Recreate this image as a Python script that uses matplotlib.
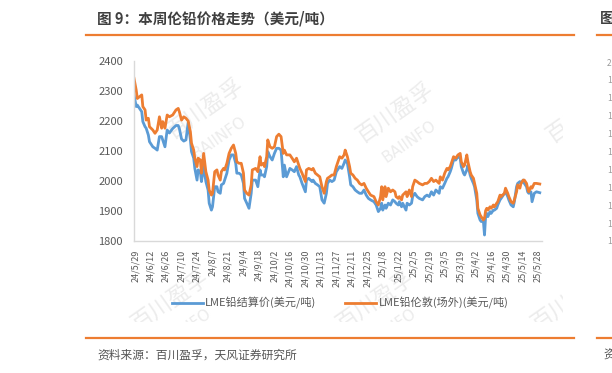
import numpy as np
import pandas as pd
import matplotlib
matplotlib.use("Agg")
from matplotlib import pyplot as plt
from matplotlib.patches import Rectangle

plt.rcParams['font.family'] = ['Noto Sans CJK SC', 'DejaVu Sans']

# days after 2024-05-29
start = pd.Timestamp('2024-05-29')
days = [-1, 1, 2, 4, 6, 7, 9, 10, 12, 13, 16, 18, 20, 22, 24, 25, 27, 29, 31, 34,
        37, 39, 40, 42, 44, 46, 48, 50, 51, 53, 54, 56, 57, 59, 60, 62, 64, 66, 67, 69,
        70, 72, 74, 75, 77, 78, 80, 81, 83, 85, 87, 89, 91, 92, 94, 96, 98, 99, 101, 103,
        105, 106, 109,
        111, 113, 114, 116, 117, 119, 120, 122, 124, 126, 128, 130, 132, 134, 135, 137,
        140, 142, 144, 146, 148, 149, 151, 154, 155, 157, 160, 161, 163, 165, 167, 169,
        171, 173, 174, 176, 178, 180, 182,
        185, 187, 189, 190, 192, 194, 195, 197, 199, 201, 203, 205, 207, 209, 211, 213,
        216, 218, 220,
        222, 223, 224, 226, 227, 229, 231, 233, 235, 236, 238, 239, 241, 242, 245, 246,
        248, 250, 251, 253, 255, 257,
        260, 262, 264, 266, 268, 270, 272, 275, 276, 278, 280, 282, 283, 285, 286, 288,
        290, 292, 294, 295, 297, 298, 300, 301, 303, 304, 306, 307, 309, 310, 312, 313,
        315, 316, 317, 318, 319, 321, 322, 324, 325, 327, 328, 330, 331,
        334, 335, 337, 338, 340, 342, 343, 345, 346, 348, 349, 351, 352, 354, 355, 356,
        358, 359, 361, 363, 366]

# LME铅伦敦(场外)
lme_3m = [2342, 2303, 2275, 2281, 2287, 2248, 2237, 2203, 2209, 2181, 2170, 2159, 2170, 2214, 2176, 2198, 2176, 2220, 2214, 2220,
          2237, 2242, 2231, 2203, 2214, 2209, 2200, 2164, 2126, 2103, 2076, 2048, 2076, 2070, 2026, 2092, 2031, 2003, 1970, 1953,
          1959, 2031, 2037, 2020, 2003, 2031, 2042, 2037, 2059, 2092, 2109, 2120, 2092, 2064, 2059, 2059, 2026, 1970, 1959, 1953,
          1987, 2037, 2042,
          2031, 2081, 2053, 2059, 2048, 2081, 2137, 2114, 2109, 2114, 2148, 2156, 2148, 2092, 2103, 2087,
          2087, 2076, 2064, 2076, 2053, 2042, 2026, 1998, 2037, 2042, 2037, 2042, 2026, 2020, 2014, 1981,
          1959, 1998, 2009, 2014, 2020, 2020, 2048,
          2081, 2076, 2087, 2103, 2081, 2048, 2026, 2020, 2009, 2003, 1992, 1987, 1992, 1976, 1964, 1953,
          1948, 1931, 1920,
          1948, 1981, 1937, 1981, 1948, 1976, 1964, 1970, 1964, 1948, 1942, 1948, 1937, 1953, 1964, 1948,
          1970, 1948, 1981, 2003, 1998, 1992,
          1987, 1992, 1992, 1998, 2009, 1998, 2003, 1992, 2014, 2003, 2026, 2042, 2037, 2048, 2059, 2081,
          2076, 2087, 2092, 2064, 2048, 2053, 2087, 2064, 2031, 2020, 2009, 1992, 1959, 1909, 1887, 1881,
          1870, 1876, 1901, 1909, 1903, 1914, 1909, 1920, 1914, 1926, 1931, 1953, 1948,
          1959, 1976, 1959, 1948, 1931, 1926, 1937, 1964, 1987, 1976, 1992, 2003, 2003, 1992, 1976, 1964,
          1981, 1976, 1992, 1992, 1990]

# LME铅结算价
lme_settle = [2287, 2248, 2253, 2242, 2231, 2198, 2181, 2176, 2153, 2131, 2114, 2109, 2103, 2148, 2148, 2137, 2114, 2170, 2160, 2175,
              2185, 2185, 2175, 2140, 2133, 2137, 2195, 2137, 2098, 2076, 2042, 2003, 2037, 2031, 1998, 2048, 1998, 1970, 1926, 1903,
              1914, 1981, 1981, 1964, 1959, 1987, 1992, 2003, 2026, 2070, 2087, 2087, 2059, 2026, 2026, 2020, 1992, 1942, 1926, 1909,
              1959, 2003, 2003,
              1981, 2037, 2020, 2020, 2014, 2048, 2098, 2081, 2070, 2092, 2109, 2109, 2103, 2014, 2053, 2014,
              2042, 2037, 2031, 2048, 2020, 2014, 1992, 1964, 2003, 2009, 1998, 2003, 1992, 1987, 1981, 1937,
              1926, 1959, 1992, 2003, 1998, 2003, 2031,
              2048, 2042, 2059, 2070, 2059, 2014, 1987, 1981, 1970, 1964, 1959, 1959, 1970, 1953, 1942, 1937,
              1931, 1920, 1898,
              1909, 1926, 1903, 1920, 1909, 1926, 1920, 1937, 1931, 1926, 1920, 1931, 1914, 1926, 1903, 1926,
              1920, 1926, 1948, 1959, 1948, 1942,
              1937, 1948, 1953, 1948, 1964, 1953, 1970, 1959, 1981, 1976, 1992, 2009, 2014, 2031, 2042, 2070,
              2070, 2081, 2076, 2048, 2026, 2020, 2037, 2053, 2020, 2009, 1992, 1981, 1937, 1892, 1870, 1865,
              1865, 1820, 1881, 1892, 1881, 1898, 1892, 1903, 1903, 1909, 1920, 1937, 1942,
              1959, 1964, 1948, 1937, 1920, 1914, 1931, 1981, 1992, 1998, 1992, 2003, 1992, 1981, 1964, 1959,
              1964, 1931, 1959, 1964, 1961]

yticks = [1800, 1900, 2000, 2100, 2200, 2300, 2400]

title = '图 9：本周伦铅价格走势（美元/吨）'
source = '资料来源：百川盈孚，天风证券研究所'
labels = ['LME铅结算价(美元/吨)', 'LME铅伦敦(场外)(美元/吨)']
# first digits of the next chart's y labels, cut by the page edge
side_labels = ['2', '1', '1', '1', '1', '1', '1', '1', '1', '1', '1']

blue = '#5B9BD5'
orange = '#ED7D31'

W, H = 612, 373
fig = plt.figure(figsize=(W / 100, H / 100), dpi=100)
fig.patch.set_facecolor('white')

# pixel-coordinate overlay for page decorations
bg = fig.add_axes([0, 0, 1, 1], zorder=0)
bg.set_xlim(0, W)
bg.set_ylim(H, 0)
bg.axis('off')

bg.text(97, 18, title, fontsize=10.5, fontweight='bold', color='#404040', va='center', ha='left')
bg.text(600, 18, '图', fontsize=10.5, fontweight='bold', color='#404040', va='center', ha='left')
bg.plot([86, 574], [35, 35], color=orange, lw=1.6)
bg.plot([597, 612], [35, 35], color=orange, lw=1.6)
bg.plot([86, 574], [338, 338], color=orange, lw=1.6)
bg.plot([597, 612], [338, 338], color=orange, lw=1.6)
bg.text(97, 355, source, fontsize=8.5, color='#555555', va='center', ha='left')
bg.text(603, 355, '资', fontsize=8.5, color='#555555', va='center', ha='left')
for i, s in enumerate(side_labels):
    bg.text(607, 63 + i * 17.9, s, fontsize=6, color='#9a9a9a', va='center', ha='left')

# faint watermarks, clipped to the chart picture
clip = Rectangle((88, 45), 475, 277, transform=bg.transData)
for cx, cy in [(205, 108), (395, 112), (585, 112), (170, 300), (375, 300), (570, 300)]:
    t1 = bg.text(cx, cy, '百川盈孚', fontsize=16, color='#ececec', rotation=35,
                 ha='center', va='center', clip_on=True)
    t2 = bg.text(cx + 14, cy + 30, 'BAIINFO', fontsize=11, color='#ececec', rotation=35,
                 ha='center', va='center', family=['DejaVu Sans'], clip_on=True)
    t1.set_clip_path(clip)
    t2.set_clip_path(clip)

# main chart
x0, x1, y0, y1 = 134, 542, 61, 241
ax = fig.add_axes([x0 / W, 1 - y1 / H, (x1 - x0) / W, (y1 - y0) / H], zorder=2)
ax.patch.set_alpha(0)

dates = start + pd.to_timedelta(days, unit='D')
ax.plot(dates, lme_settle, color=blue, lw=2.0, label=labels[0])
ax.plot(dates, lme_3m, color=orange, lw=2.0, label=labels[1])

ax.set_ylim(1800, 2400)
ax.set_yticks(yticks)
ax.set_xlim(start - pd.Timedelta(days=1), start + pd.Timedelta(days=368))
ticks = pd.date_range(start, periods=27, freq='14D')
ax.set_xticks(ticks)
ax.set_xticklabels([f'{d.year % 100}/{d.month}/{d.day}' for d in ticks], rotation=90)

for s in ['top', 'right']:
    ax.spines[s].set_visible(False)
for s in ['left', 'bottom']:
    ax.spines[s].set_color('#d9d9d9')
    ax.spines[s].set_linewidth(1.0)
ax.tick_params(axis='both', length=0, colors='#595959')
ax.tick_params(axis='y', labelsize=8, pad=8)
ax.tick_params(axis='x', labelsize=6.5, pad=6)

fig.legend(loc='center', bbox_to_anchor=(340 / W, 1 - 303 / H), ncol=2, frameon=False,
           fontsize=8, handlelength=2.8, columnspacing=2.6, handletextpad=0.2,
           labelcolor='#595959')

fig.savefig('out.png', dpi=100, facecolor='white')
